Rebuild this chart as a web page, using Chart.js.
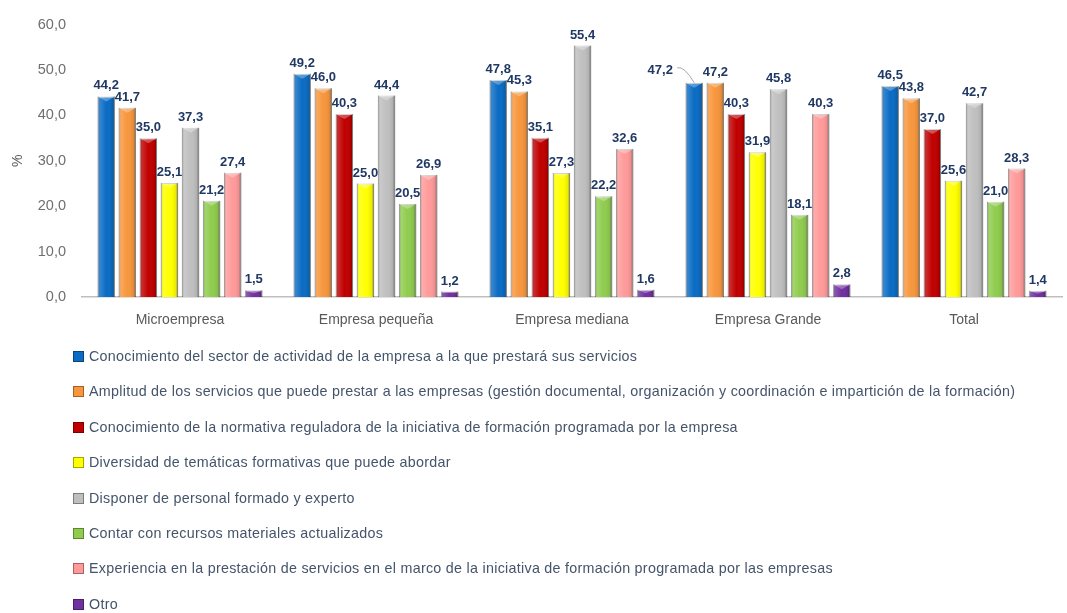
<!DOCTYPE html>
<html>
<head>
<meta charset="utf-8">
<script src="https://cdn.jsdelivr.net/npm/chart.js@4/dist/chart.umd.min.js"></script>
<style>
  body { margin: 0; background: #fff; }
  #wrap { position: relative; width: 1067px; height: 613px; overflow: hidden; }
  #box { position: absolute; left: 0; top: 0; width: 1067px; height: 340px; }
  #leyenda { position: absolute; left: 73px; top: 339px; margin: 0; padding: 0; list-style: none;
    font-family: "Liberation Sans", Arial, sans-serif; font-size: 14.3px; letter-spacing: 0.28px; color: #44546a; line-height: 35.4px; white-space: nowrap; }
  #leyenda span.sq { display: inline-block; width: 9px; height: 9px; margin-right: 5px; vertical-align: -1px; border: 1px solid rgba(0,0,0,0.35); }
</style>
</head>
<body>
<div id="wrap">
  <div id="box"><canvas id="grafico"></canvas></div>
  <ul id="leyenda"></ul>
</div>
<script>
// categorias y series (% de empresas)
const categorias = ['Microempresa', 'Empresa pequeña', 'Empresa mediana', 'Empresa Grande', 'Total'];

const series = [
  'Conocimiento del sector de actividad de la empresa a la que prestará sus servicios',
  'Amplitud de los servicios que puede prestar a las empresas (gestión documental, organización y coordinación e impartición de la formación)',
  'Conocimiento de la normativa reguladora de la iniciativa de formación programada por la empresa',
  'Diversidad de temáticas formativas que puede abordar',
  'Disponer de personal formado y experto',
  'Contar con recursos materiales actualizados',
  'Experiencia en la prestación de servicios en el marco de la iniciativa de formación programada por las empresas',
  'Otro'
];

const conocimientoSector = [44.2, 49.2, 47.8, 47.2, 46.5];
const amplitudServicios  = [41.7, 46.0, 45.3, 47.2, 43.8];
const normativa          = [35.0, 40.3, 35.1, 40.3, 37.0];
const diversidad         = [25.1, 25.0, 27.3, 31.9, 25.6];
const personal           = [37.3, 44.4, 55.4, 45.8, 42.7];
const recursos           = [21.2, 20.5, 22.2, 18.1, 21.0];
const experiencia        = [27.4, 26.9, 32.6, 40.3, 28.3];
const otro               = [1.5, 1.2, 1.6, 2.8, 1.4];

const yTicks = [0, 10, 20, 30, 40, 50, 60];

const valores = [conocimientoSector, amplitudServicios, normativa, diversidad, personal, recursos, experiencia, otro];
const colores = ['#0a6cc4', '#f7963c', '#c00000', '#ffff00', '#bfbfbf', '#8fcc4e', '#ff9a9a', '#7030a0'];

const coma = v => v.toFixed(1).replace('.', ',');

// relieve de las barras + etiquetas de valor
const barrasPlugin = {
  id: 'barras',
  afterDatasetsDraw(chart) {
    const ctx = chart.ctx;
    chart.data.datasets.forEach((ds, i) => {
      const meta = chart.getDatasetMeta(i);
      meta.data.forEach(bar => {
        const x0 = bar.x - bar.width / 2, w = bar.width, top = bar.y, h = bar.base - bar.y;
        const g = ctx.createLinearGradient(x0, 0, x0 + w, 0);
        g.addColorStop(0, 'rgba(0,0,0,0.30)');
        g.addColorStop(0.12, 'rgba(255,255,255,0.18)');
        g.addColorStop(0.5, 'rgba(255,255,255,0)');
        g.addColorStop(0.85, 'rgba(0,0,0,0.08)');
        g.addColorStop(1, 'rgba(0,0,0,0.40)');
        ctx.save();
        ctx.fillStyle = g;
        ctx.fillRect(x0, top, w, h);
        if (h > 6) {
          ctx.fillStyle = 'rgba(255,255,255,0.30)';
          ctx.beginPath();
          ctx.moveTo(x0, top);
          ctx.lineTo(x0 + w, top);
          ctx.lineTo(bar.x, top + Math.min(5, h / 2));
          ctx.closePath();
          ctx.fill();
        }
        ctx.restore();
      });
    });
    ctx.save();
    ctx.font = 'bold 13px "Liberation Sans", Arial, sans-serif';
    ctx.fillStyle = '#1f3864';
    ctx.textAlign = 'center';
    ctx.textBaseline = 'bottom';
    chart.data.datasets.forEach((ds, i) => {
      chart.getDatasetMeta(i).data.forEach((bar, j) => {
        // etiqueta desplazada con linea guia (Empresa Grande, primera serie)
        if (i === 0 && j === 3) {
          const tx = bar.x - 34, ty = bar.y - 6;
          ctx.fillText(coma(ds.data[j]), tx, ty);
          ctx.save();
          ctx.strokeStyle = '#a6a6a6';
          ctx.lineWidth = 1;
          ctx.beginPath();
          ctx.moveTo(tx + 17, ty - 9);
          ctx.quadraticCurveTo(tx + 24, ty - 11, bar.x, bar.y);
          ctx.stroke();
          ctx.restore();
          return;
        }
        ctx.fillText(coma(ds.data[j]), bar.x, bar.y - 4);
      });
    });
    ctx.restore();
  }
};

const grafico = new Chart(document.getElementById('grafico'), {
  type: 'bar',
  data: {
    labels: categorias,
    datasets: series.map((s, i) => ({
      label: s,
      data: valores[i],
      backgroundColor: colores[i],
      borderColor: 'rgba(0,0,0,0.25)',
      borderWidth: 1,
      categoryPercentage: 0.86,
      barPercentage: 0.82
    }))
  },
  options: {
    responsive: true,
    maintainAspectRatio: false,
    animation: false,
    layout: { padding: { top: 20, right: 5, left: 0, bottom: 0 } },
    plugins: { legend: { display: false }, tooltip: { enabled: false } },
    scales: {
      x: {
        grid: { display: false, drawTicks: false },
        border: { display: true, color: '#bfbfbf', width: 1.5 },
        ticks: { padding: 15, color: '#595959', font: { family: '"Liberation Sans", Arial, sans-serif', size: 14 } },
        afterFit(s) { s.height = 43; }
      },
      y: {
        min: 0, max: 60,
        afterBuildTicks(s) { s.ticks = yTicks.map(v => ({ value: v })); },
        grid: { display: false, drawTicks: false },
        border: { display: false },
        ticks: { padding: 16, color: '#6f6f6f', font: { family: '"Liberation Sans", Arial, sans-serif', size: 14.5 }, callback: v => coma(v) },
        title: { display: true, text: '%', color: '#595959', padding: { top: 10, bottom: 0 }, font: { family: '"Liberation Sans", Arial, sans-serif', size: 14 } },
        afterFit(s) { s.width = 82; }
      }
    }
  },
  plugins: [barrasPlugin]
});

// leyenda vertical en HTML
const ul = document.getElementById('leyenda');
grafico.data.datasets.forEach(ds => {
  const li = document.createElement('li');
  const sq = document.createElement('span');
  sq.className = 'sq';
  sq.style.background = ds.backgroundColor;
  li.appendChild(sq);
  li.appendChild(document.createTextNode(ds.label));
  ul.appendChild(li);
});
</script>
</body>
</html>
